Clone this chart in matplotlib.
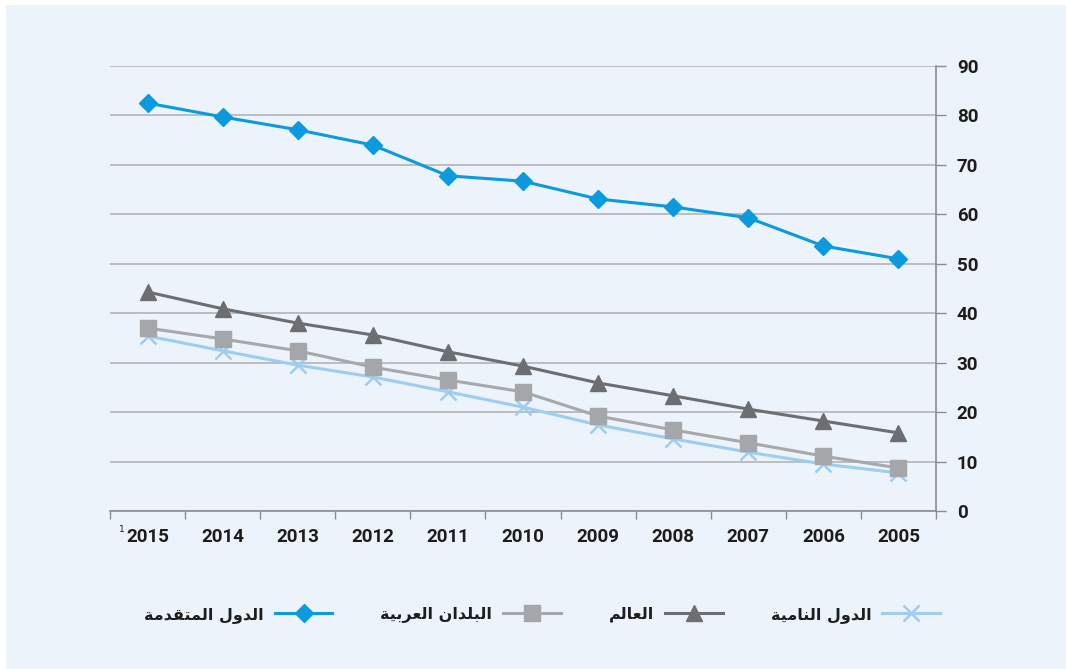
import matplotlib
matplotlib.use("Agg")
import matplotlib.pyplot as plt
from matplotlib.patches import Rectangle
from matplotlib.ticker import FixedLocator

# ---------------- data ----------------
years = ["2005", "2006", "2007", "2008", "2009", "2010", "2011", "2012", "2013", "2014", "2015"]
developed = [51.0, 53.6, 59.3, 61.5, 63.1, 66.7, 67.8, 74.0, 77.1, 79.7, 82.5]
world = [15.8, 18.2, 20.6, 23.3, 25.9, 29.3, 32.2, 35.6, 38.0, 40.9, 44.3]
arab = [8.7, 11.1, 13.8, 16.4, 19.2, 24.1, 26.5, 29.1, 32.4, 34.8, 37.0]
developing = [7.7, 9.5, 11.9, 14.6, 17.4, 21.0, 24.1, 27.1, 29.5, 32.4, 35.4]
yticks = [0, 10, 20, 30, 40, 50, 60, 70, 80, 90]

label_developed = "الدول المتقدمة"
label_arab = "البلدان العربية"
label_world = "العالم"
label_developing = "الدول النامية"

# ---------------- simple Arabic shaping (presentation forms) ----------------
FORMS = {
    "ا": ("\uFE8D", "\uFE8E"),
    "ب": ("\uFE8F", "\uFE90", "\uFE91", "\uFE92"),
    "ة": ("\uFE93", "\uFE94"),
    "ت": ("\uFE95", "\uFE96", "\uFE97", "\uFE98"),
    "د": ("\uFEA9", "\uFEAA"),
    "ر": ("\uFEAD", "\uFEAE"),
    "ع": ("\uFEC9", "\uFECA", "\uFECB", "\uFECC"),
    "ق": ("\uFED5", "\uFED6", "\uFED7", "\uFED8"),
    "ل": ("\uFEDD", "\uFEDE", "\uFEDF", "\uFEE0"),
    "م": ("\uFEE1", "\uFEE2", "\uFEE3", "\uFEE4"),
    "ن": ("\uFEE5", "\uFEE6", "\uFEE7", "\uFEE8"),
    "و": ("\uFEED", "\uFEEE"),
    "ي": ("\uFEF1", "\uFEF2", "\uFEF3", "\uFEF4"),
}


def shape(text):
    out = []
    n = len(text)
    for i, ch in enumerate(text):
        if ch not in FORMS:
            out.append(ch)
            continue
        f = FORMS[ch]
        prev = text[i - 1] if i > 0 else None
        nxt = text[i + 1] if i < n - 1 else None
        join_prev = prev in FORMS and len(FORMS[prev]) == 4
        join_next = len(f) == 4 and nxt in FORMS
        if join_prev and join_next:
            out.append(f[3])
        elif join_prev:
            out.append(f[1])
        elif join_next:
            out.append(f[2])
        else:
            out.append(f[0])
    return "".join(out)[::-1]


# ---------------- figure ----------------
W, H = 1066, 669
fig = plt.figure(figsize=(W / 100, H / 100), dpi=100, facecolor="white")
bg = "#ECF3FB"
fig.patches.append(Rectangle((6 / W, 0), 1, 1 - 5 / H, transform=fig.transFigure,
                             facecolor=bg, edgecolor="none", zorder=-10))

ax = fig.add_axes([110 / W, 1 - 511 / H, (936 - 110) / W, (511 - 66) / H])
ax.set_zorder(1)
ax.patch.set_alpha(0)

x = list(range(len(years)))
c_dev = "#0A9ADD"
c_world = "#6D6E71"
c_arab = "#A7A8AB"
c_devg = "#9DCDF1"
txt = "#1E1C1D"

l1, = ax.plot(x, developed, color=c_dev, lw=2.2, marker="D", ms=9, mfc=c_dev, mec=c_dev, zorder=5)
l2, = ax.plot(x, arab, color=c_arab, lw=2.2, marker="s", ms=12, mfc="#A5A6A9", mec="#A5A6A9", zorder=4)
l3, = ax.plot(x, world, color=c_world, lw=2.2, marker="^", ms=11, mfc=c_world, mec=c_world, zorder=4)
l4, = ax.plot(x, developing, color=c_devg, lw=2.2, marker="x", ms=11, mew=1.8, mfc=c_devg, mec=c_devg, zorder=3)

ax.set_xlim(-0.5, len(years) - 0.5)
ax.invert_xaxis()
ax.set_ylim(0, 90)

for s in ["left", "top"]:
    ax.spines[s].set_visible(False)
ax.spines["right"].set_color("#8C8C8E")
ax.spines["right"].set_linewidth(1.2)
ax.spines["bottom"].set_color("#8C8C8E")
ax.spines["bottom"].set_linewidth(1.2)

ax.yaxis.tick_right()
ax.set_yticks(yticks)
ax.tick_params(axis="y", which="major", length=7, width=1, color="#8C8C8E", pad=8,
               labelsize=13.5, labelcolor=txt)
for t in ax.get_yticklabels():
    t.set_fontweight("bold")
    t.set_fontfamily("Roboto")
ax.grid(axis="y", color="#B4B4B6", lw=1.2)
ax.set_axisbelow(True)

ax.set_xticks(x)
ax.set_xticklabels(years)
ax.xaxis.set_minor_locator(FixedLocator([i - 0.5 for i in range(len(years) + 1)]))
ax.tick_params(axis="x", which="major", length=0, pad=12, labelsize=13.5, labelcolor=txt)
ax.tick_params(axis="x", which="minor", length=6, width=1, color="#8C8C8E")
for t in ax.get_xticklabels():
    t.set_fontweight("bold")
    t.set_fontfamily("Roboto")

fig.text(122 / W, 1 - 530 / H, "1", fontsize=6.5, color=txt, ha="center", va="center")

leg = fig.legend([l1, l2, l3, l4],
                 [shape(label_developed), shape(label_arab), shape(label_world), shape(label_developing)],
                 loc="center", bbox_to_anchor=(542 / W, 1 - 615 / H), ncol=4, frameon=False,
                 markerfirst=False, handlelength=3.6, handletextpad=0.7, columnspacing=3.0,
                 numpoints=1, prop={"family": "DejaVu Sans", "weight": "bold", "size": 11.5})
for t in leg.get_texts():
    t.set_color(txt)

fig.savefig("out.png", dpi=100, facecolor="white")
